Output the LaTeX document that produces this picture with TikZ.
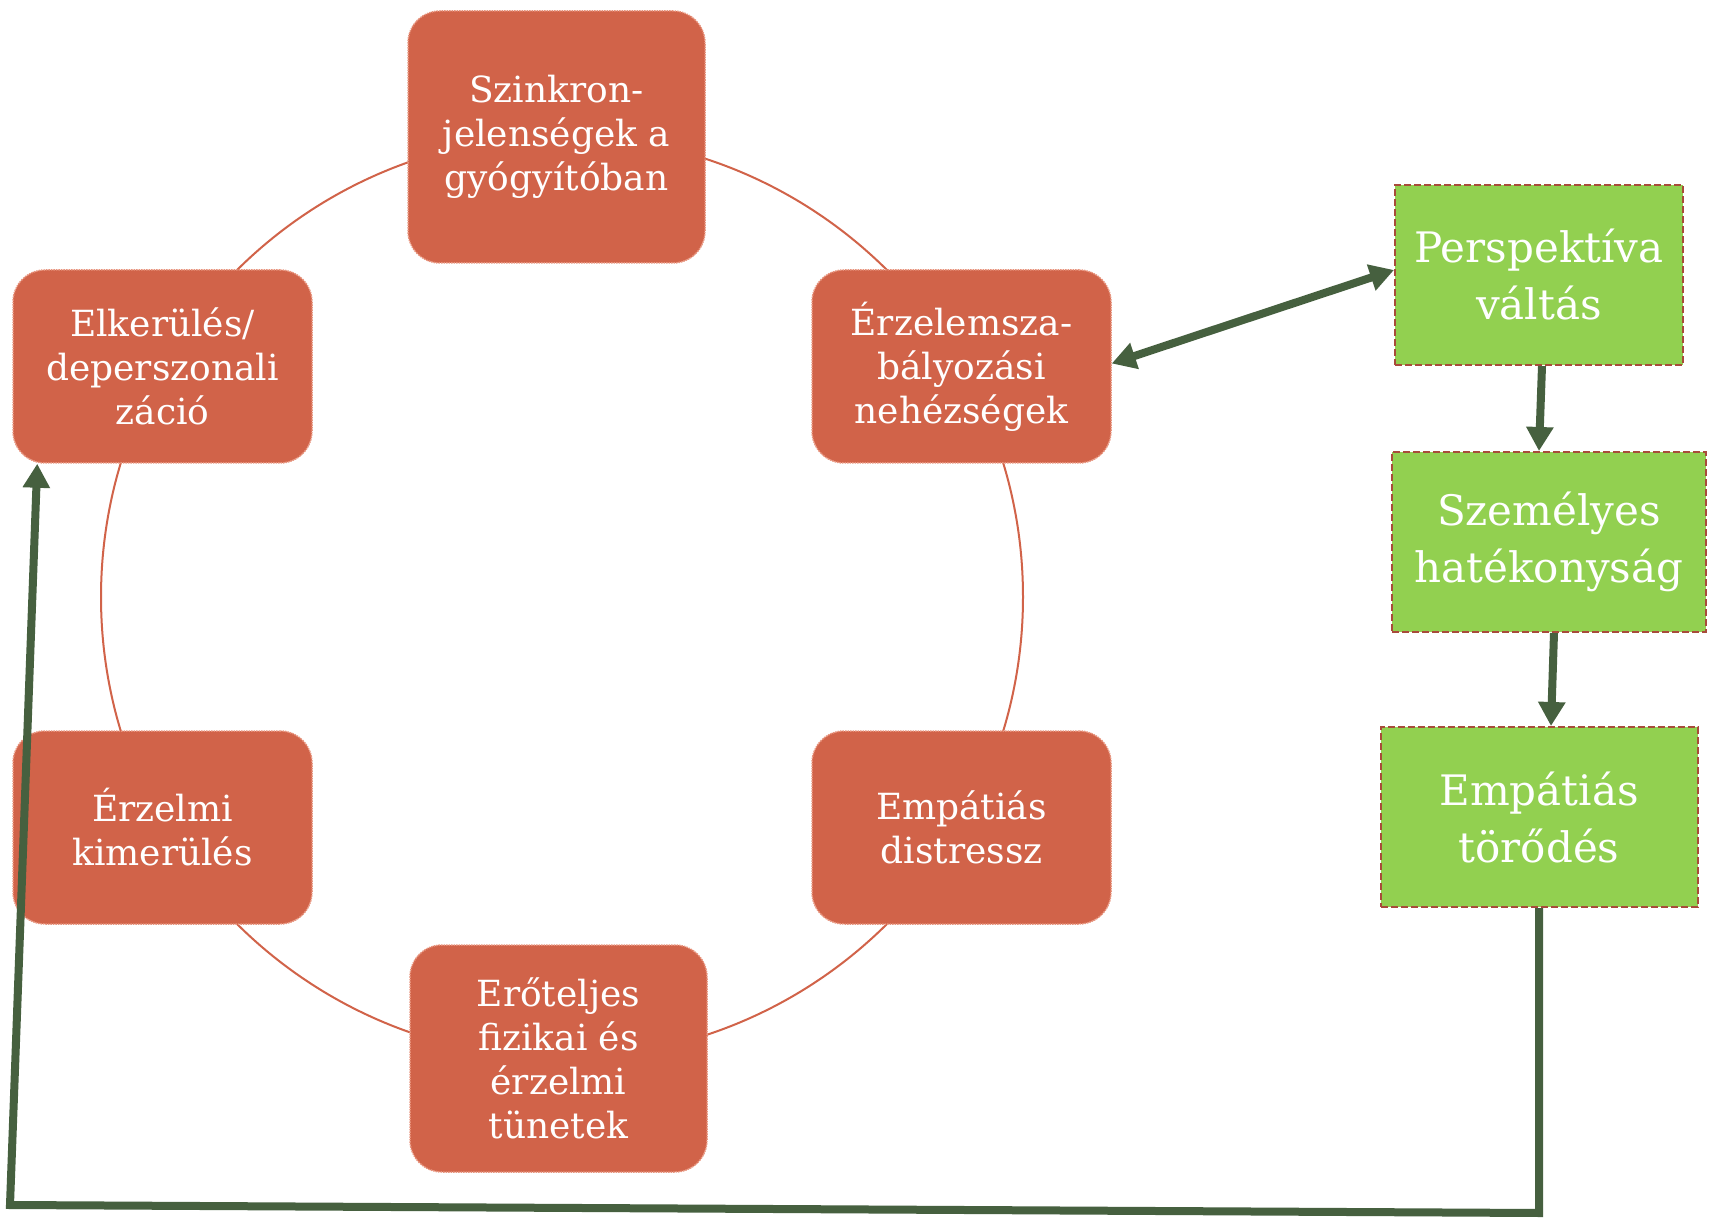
\documentclass[tikz,border=0pt]{standalone}
\usepackage{fontspec}
\setmainfont{DejaVu Serif}
\usetikzlibrary{arrows.meta}
\definecolor{boxred}{HTML}{D16349}
\definecolor{boxredline}{HTML}{E8937C}
\definecolor{boxgreen}{HTML}{92D050}
\definecolor{greenline}{HTML}{A84B3A}
\definecolor{arrowgreen}{HTML}{46603F}
\tikzset{
  redbox/.style={draw=boxredline, densely dotted, line width=1.5pt, fill=boxred,
    rounded corners=32pt, text=white, align=center, inner sep=0pt,
    font=\fontsize{36}{44}\selectfont},
  greenbox/.style={draw=greenline, dashed, dash pattern=on 7pt off 3pt, line width=2pt, fill=boxgreen,
    text=white, align=center, inner sep=0pt,
    font=\fontsize{42}{57}\selectfont},
  conn/.style={draw=arrowgreen, line width=8pt},
  tip/.style={-{Triangle[width=26pt,length=24pt]}},
}
\begin{document}
\begin{tikzpicture}[x=1pt,y=-1pt]
\useasboundingbox (0,0) rectangle (1709,1222);
\fill[white] (0,0) rectangle (1709,1222);
\node[draw=boxred, line width=2pt, circle, minimum size=922pt, inner sep=0pt] (ring) at (562,597) {};
\node[redbox, minimum width=297pt, minimum height=252pt] (top) at (556.5,137) {Szinkron-\\jelenségek a\\gyógyítóban};
\node[redbox, minimum width=299pt, minimum height=193pt] (ul) at (162.5,366.5) {Elkerülés/\\deperszonali\\záció};
\node[redbox, minimum width=299pt, minimum height=193pt] (ur) at (961.5,366.5) {Érzelemsza-\\bályozási\\nehézségek};
\node[redbox, minimum width=299pt, minimum height=193pt] (ll) at (162.5,827.5) {Érzelmi\\kimerülés};
\node[redbox, minimum width=299pt, minimum height=193pt] (lr) at (961.5,827.5) {Empátiás\\distressz};
\node[redbox, minimum width=297pt, minimum height=227pt] (bot) at (558.5,1058.5) {Erőteljes\\fizikai és\\érzelmi\\tünetek};
\node[greenbox, minimum width=288pt, minimum height=180pt] (p) at (1539,275) {Perspektíva\\váltás};
\node[greenbox, minimum width=314pt, minimum height=180pt] (s) at (1549,542) {Személyes\\hatékonyság};
\node[greenbox, minimum width=317pt, minimum height=180pt] (e) at (1539,817) {Empátiás\\törődés};
\draw[conn, {Triangle[width=26pt,length=24pt]}-{Triangle[width=26pt,length=24pt]}] ([yshift=3pt]ur.east) -- ([yshift=5pt]p.west);
\draw[conn, tip] ([xshift=3pt]p.south) -- (p.south |- s.north);
\draw[conn, tip] ([xshift=5pt]s.south) -- ([xshift=2pt]s.south |- e.north);
\coordinate (br) at (1539,1213);
\coordinate (bl) at (10,1205);
\draw[conn, tip, line join=miter] (e.south) -- (br) -- (bl) -- ([xshift=25pt]ul.south west);
\end{tikzpicture}
\end{document}
